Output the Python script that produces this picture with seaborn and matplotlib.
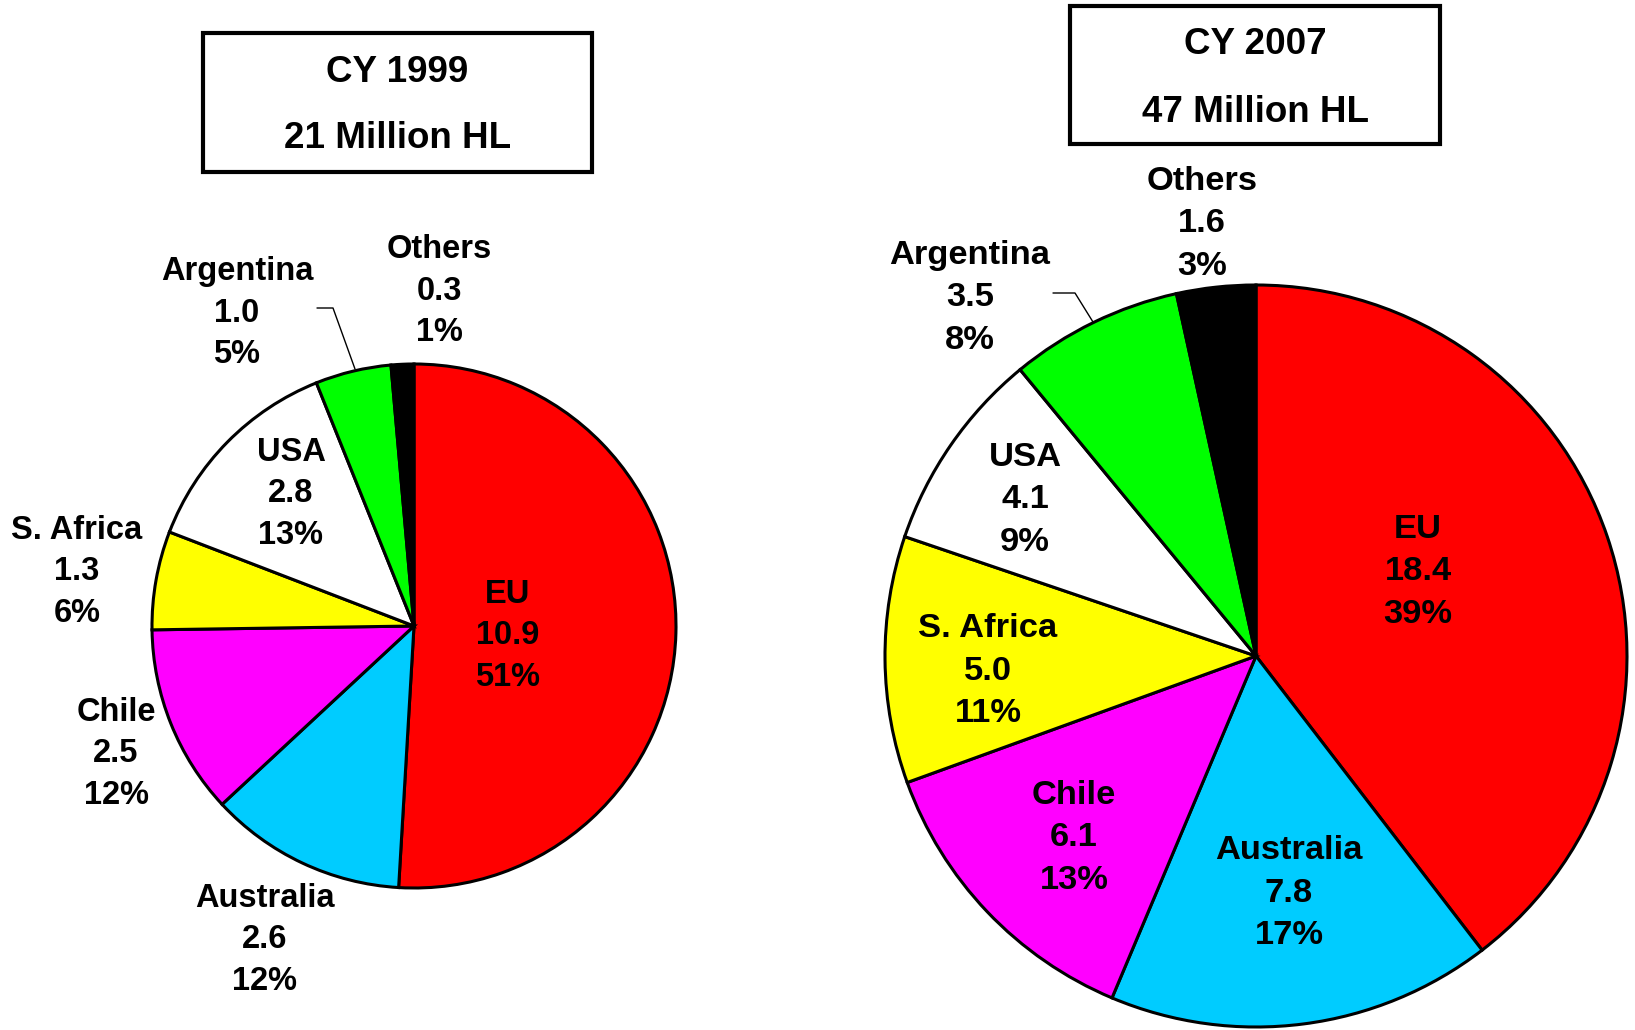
"""Two-pie comparison of wine volumes, CY 1999 vs CY 2007."""

import matplotlib.pyplot as plt
import seaborn as sns
from matplotlib.patches import Rectangle

W, H = 1635, 1030

REGIONS = ["EU", "Australia", "Chile", "S. Africa", "USA", "Argentina", "Others"]
COLORS = ["#FF0000", "#00CCFF", "#FF00FF", "#FFFF00", "#FFFFFF", "#00FF00", "#000000"]

VOLUME_1999 = [10.9, 2.6, 2.5, 1.3, 2.8, 1.0, 0.3]
SHARE_1999 = [51, 12, 12, 6, 13, 5, 1]
VOLUME_2007 = [18.4, 7.8, 6.1, 5.0, 4.1, 3.5, 1.6]
SHARE_2007 = [39, 17, 13, 11, 9, 8, 3]

TITLES = [("CY 1999", "21 Million HL"), ("CY 2007", "47 Million HL")]

# layout in image pixels (y measured from the top)
PIE_CENTERS = [(414, 626), (1256, 656)]
PIE_RADII = [262, 371]
BOXES = [(203, 33, 592, 172), (1070, 6, 1440, 144)]
TITLE_Y = [(72, 138), (44, 112)]
LABEL_POS = [
    [(508, 636), (265, 940), (116, 754), (77, 572), (291, 494), (237, 313), (439, 291)],
    [(1418, 572), (1289, 893), (1074, 838), (988, 671), (1025, 500), (970, 298), (1202, 224)],
]
LABEL_SIZE = [23.5, 24.8]
LABEL_SPACING = [1.42, 1.48]
LEADERS = [
    [(317, 308), (333, 308), (355, 369)],
    [(1053, 293), (1075, 293), (1093, 322)],
]


def fy(y):
    return H - y


sns.set_style("white")
plt.rcParams["font.family"] = ["Liberation Sans", "DejaVu Sans"]
plt.rcParams["text.color"] = "black"

fig = plt.figure(figsize=(W / 100, H / 100), dpi=100)
ax = fig.add_axes([0, 0, 1, 1])

datasets = [(VOLUME_1999, SHARE_1999), (VOLUME_2007, SHARE_2007)]
for i, (volumes, shares) in enumerate(datasets):
    cx, cy = PIE_CENTERS[i]
    ax.pie(
        volumes,
        colors=COLORS,
        startangle=90,
        counterclock=False,
        center=(cx, fy(cy)),
        radius=PIE_RADII[i],
        wedgeprops=dict(edgecolor="black", linewidth=2.2),
    )
    for region, vol, share, (lx, ly) in zip(REGIONS, volumes, shares, LABEL_POS[i]):
        ax.text(lx, fy(ly), f"{region}\n{vol:.1f}\n{share}%", ha="center", va="center",
                fontsize=LABEL_SIZE[i], fontweight="bold", linespacing=LABEL_SPACING[i],
                color="black")

    x0, y0, x1, y1 = BOXES[i]
    ax.add_patch(Rectangle((x0, fy(y1)), x1 - x0, y1 - y0, facecolor="white",
                           edgecolor="black", linewidth=3))
    for line, ty in zip(TITLES[i], TITLE_Y[i]):
        ax.text((x0 + x1) / 2, fy(ty), line, ha="center", va="center",
                fontsize=26.5, fontweight="bold", color="black")

    xs, ys = zip(*LEADERS[i])
    ax.plot(xs, [fy(v) for v in ys], color="black", linewidth=1.0)

ax.set_xlim(0, W)
ax.set_ylim(0, H)
ax.set_aspect("auto")
ax.axis("off")

fig.savefig("out.png", dpi=100)
